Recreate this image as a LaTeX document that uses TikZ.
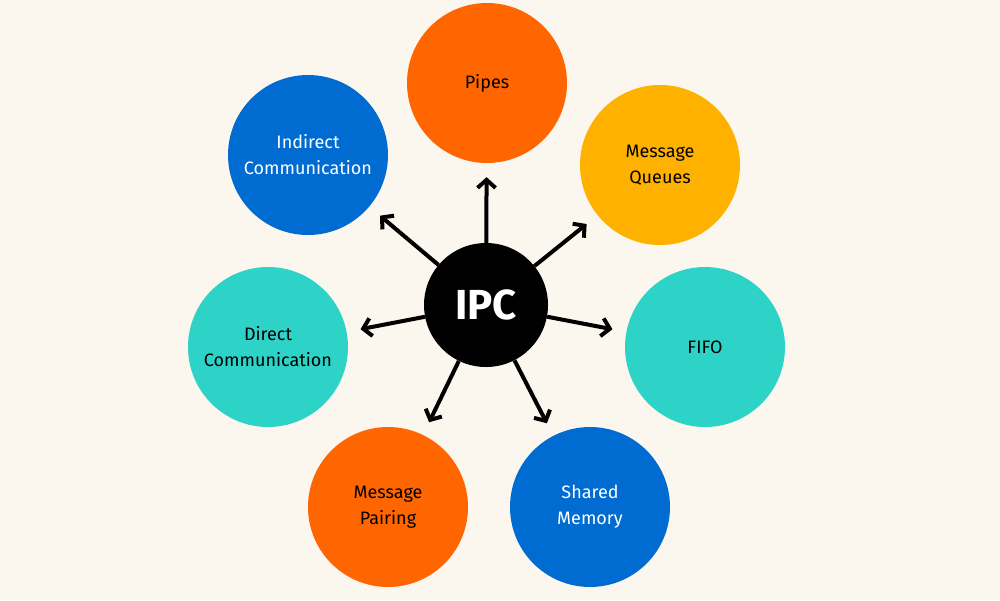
\documentclass[tikz,border=0pt]{standalone}
\usepackage{fontspec}
\setmainfont{Fira Sans}
\usetikzlibrary{arrows.meta}
\definecolor{bgcream}{HTML}{FBF7EE}
\definecolor{ipcorange}{HTML}{FF6600}
\definecolor{ipcyellow}{HTML}{FFB100}
\definecolor{ipcteal}{HTML}{2DD3C6}
\definecolor{ipcblue}{HTML}{006CD2}
\begin{document}
\begin{tikzpicture}[
  x=1pt, y=-1pt,
  topic/.style={circle, minimum size=160pt, inner sep=0pt, align=center, font=\fontsize{18}{26}\selectfont},
  hub/.style={circle, fill=black, minimum size=124pt, text=white, font=\fontsize{42}{42}\selectfont\bfseries},
  line/.style={draw, line width=4pt, shorten >=14pt, -{Straight Barb[length=8pt,width=18pt]}}
]
\fill[bgcream] (0,0) rectangle (1000,600);

\node[hub] (ipc) at (486,305) {IPC};
\node[topic, fill=ipcorange] (pipes) at (487,83) {Pipes};
\node[topic, fill=ipcyellow] (queues) at (660,165) {Message\\Queues};
\node[topic, fill=ipcteal] (fifo) at (705,347) {FIFO};
\node[topic, fill=ipcblue, text=white] (shared) at (590,507) {Shared\\Memory};
\node[topic, fill=ipcorange] (pairing) at (388,507) {Message\\Pairing};
\node[topic, fill=ipcteal] (direct) at (268,347) {Direct\\Communication};
\node[topic, fill=ipcblue, text=white] (indirect) at (308,155) {Indirect\\Communication};

\foreach \t in {pipes,queues,fifo,shared,pairing,direct,indirect}
  \path[line] (ipc) -- (\t);

\end{tikzpicture}
\end{document}
